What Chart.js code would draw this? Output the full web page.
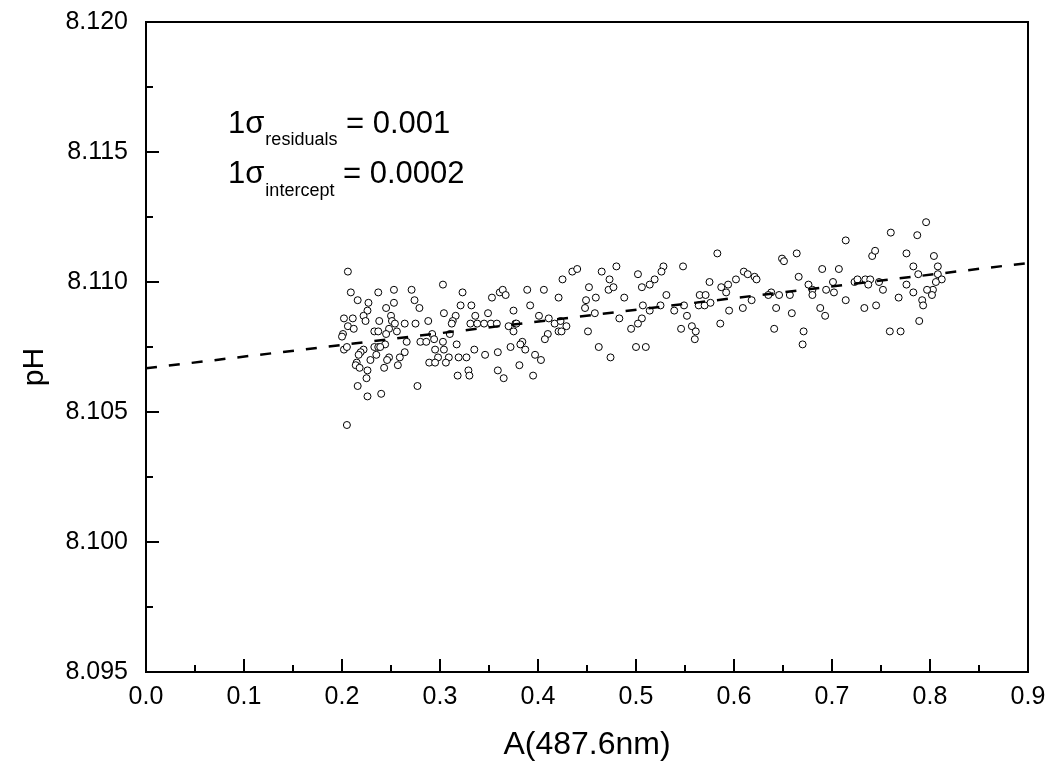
<!DOCTYPE html>
<html>
<head>
<meta charset="utf-8">
<script src="https://cdn.jsdelivr.net/npm/chart.js@4"></script>
<style>
  html, body { margin: 0; padding: 0; background: #fff; }
  #wrap { width: 1054px; height: 765px; position: relative; }
</style>
</head>
<body>
<div id="wrap"><canvas id="chart"></canvas></div>
<script>
// measured samples: [A(487.6nm), pH]
const samples = [
  [0.206,8.1104],[0.209,8.1096],[0.216,8.1093],[0.227,8.1092],[0.237,8.1096],[0.253,8.1097],[0.253,8.1092],[0.226,8.1089],[0.222,8.1087],[0.224,8.1085],
  [0.245,8.1090],[0.202,8.1086],[0.211,8.1086],[0.206,8.1083],[0.212,8.1082],[0.201,8.1080],[0.200,8.1079],[0.238,8.1085],[0.250,8.1087],[0.251,8.1085],
  [0.254,8.1084],[0.248,8.1082],[0.233,8.1081],[0.237,8.1081],[0.245,8.1080],[0.256,8.1081],[0.202,8.1074],[0.205,8.1075],[0.222,8.1074],[0.219,8.1073],
  [0.217,8.1072],[0.233,8.1075],[0.237,8.1075],[0.244,8.1076],[0.239,8.1075],[0.235,8.1072],[0.229,8.1070],[0.215,8.1069],[0.214,8.1068],[0.218,8.1067],
  [0.226,8.1066],[0.225,8.1063],[0.248,8.1071],[0.246,8.1070],[0.257,8.1068],[0.243,8.1067],[0.216,8.1060],[0.226,8.1056],[0.240,8.1057],[0.205,8.1045],
  [0.303,8.1099],[0.271,8.1097],[0.323,8.1096],[0.353,8.1094],[0.361,8.1096],[0.274,8.1093],[0.279,8.1090],[0.304,8.1088],[0.321,8.1091],[0.332,8.1091],
  [0.316,8.1087],[0.336,8.1087],[0.349,8.1088],[0.264,8.1084],[0.275,8.1084],[0.288,8.1085],[0.313,8.1085],[0.312,8.1084],[0.331,8.1084],[0.338,8.1084],
  [0.345,8.1084],[0.352,8.1084],[0.358,8.1084],[0.292,8.1080],[0.310,8.1080],[0.266,8.1077],[0.280,8.1077],[0.286,8.1077],[0.294,8.1078],[0.303,8.1077],
  [0.317,8.1076],[0.295,8.1074],[0.304,8.1074],[0.264,8.1073],[0.259,8.1071],[0.298,8.1071],[0.309,8.1071],[0.319,8.1071],[0.327,8.1071],[0.335,8.1074],
  [0.346,8.1072],[0.359,8.1073],[0.289,8.1069],[0.295,8.1069],[0.306,8.1069],[0.329,8.1066],[0.330,8.1064],[0.318,8.1064],[0.359,8.1066],[0.277,8.1060],
  [0.435,8.1104],[0.440,8.1105],[0.425,8.1101],[0.465,8.1104],[0.364,8.1097],[0.367,8.1095],[0.389,8.1097],[0.406,8.1097],[0.421,8.1094],[0.392,8.1091],
  [0.452,8.1098],[0.449,8.1093],[0.459,8.1094],[0.375,8.1089],[0.448,8.1090],[0.458,8.1088],[0.370,8.1083],[0.377,8.1084],[0.378,8.1084],[0.375,8.1081],
  [0.401,8.1087],[0.411,8.1086],[0.417,8.1084],[0.423,8.1085],[0.429,8.1083],[0.410,8.1080],[0.421,8.1081],[0.424,8.1081],[0.407,8.1078],[0.451,8.1081],
  [0.384,8.1077],[0.382,8.1076],[0.372,8.1075],[0.387,8.1074],[0.397,8.1072],[0.403,8.1070],[0.381,8.1068],[0.365,8.1063],[0.395,8.1064],[0.462,8.1075],
  [0.480,8.1106],[0.502,8.1103],[0.528,8.1106],[0.526,8.1104],[0.548,8.1106],[0.473,8.1101],[0.472,8.1097],[0.477,8.1098],[0.506,8.1098],[0.514,8.1099],
  [0.519,8.1101],[0.488,8.1094],[0.531,8.1095],[0.565,8.1095],[0.507,8.1091],[0.514,8.1089],[0.525,8.1091],[0.549,8.1091],[0.564,8.1091],[0.483,8.1086],
  [0.506,8.1086],[0.502,8.1084],[0.495,8.1082],[0.539,8.1089],[0.552,8.1087],[0.546,8.1082],[0.557,8.1083],[0.561,8.1081],[0.560,8.1078],[0.500,8.1075],
  [0.510,8.1075],[0.474,8.1071],
  [0.649,8.1109],[0.651,8.1108],[0.575,8.1100],[0.587,8.1098],[0.594,8.1099],[0.592,8.1096],[0.602,8.1101],[0.610,8.1104],[0.614,8.1103],[0.621,8.1102],
  [0.623,8.1101],[0.666,8.1102],[0.676,8.1099],[0.690,8.1105],[0.571,8.1095],[0.570,8.1091],[0.576,8.1092],[0.618,8.1093],[0.638,8.1096],[0.635,8.1095],
  [0.646,8.1095],[0.657,8.1095],[0.680,8.1097],[0.680,8.1095],[0.694,8.1097],[0.595,8.1089],[0.609,8.1090],[0.643,8.1090],[0.659,8.1088],[0.688,8.1090],
  [0.693,8.1087],[0.586,8.1084],[0.641,8.1082],[0.671,8.1081],[0.670,8.1076],
  [0.741,8.1110],[0.744,8.1112],[0.776,8.1111],[0.796,8.1123],[0.804,8.1110],[0.707,8.1105],[0.783,8.1106],[0.788,8.1103],[0.808,8.1106],[0.808,8.1103],
  [0.812,8.1101],[0.701,8.1100],[0.702,8.1096],[0.723,8.1100],[0.726,8.1101],[0.734,8.1101],[0.739,8.1101],[0.737,8.1099],[0.748,8.1100],[0.752,8.1097],
  [0.776,8.1099],[0.783,8.1096],[0.806,8.1100],[0.803,8.1097],[0.797,8.1097],[0.802,8.1095],[0.714,8.1093],[0.768,8.1094],[0.792,8.1093],[0.793,8.1091],
  [0.733,8.1090],[0.745,8.1091],[0.789,8.1085],[0.759,8.1081],[0.770,8.1081],
  [0.714,8.1116],[0.760,8.1119],[0.787,8.1118],[0.664,8.1111],[0.583,8.1111]
];

// linear fit drawn across the full x range
const fitX = [0.0, 0.9];
const fitPH = [8.10668, 8.11073];

const xMajor = [0.0, 0.1, 0.2, 0.3, 0.4, 0.5, 0.6, 0.7, 0.8, 0.9];
const xMinor = [0.05, 0.15, 0.25, 0.35, 0.45, 0.55, 0.65, 0.75, 0.85];
const yMajor = [8.095, 8.100, 8.105, 8.110, 8.115, 8.120];
const yMinor = [8.0975, 8.1025, 8.1075, 8.1125, 8.1175];

const FONT = '"Liberation Sans", Arial, sans-serif';

// inward ticks, closed frame, pH title and the sigma annotation
const framePlugin = {
    id: 'frame',
    afterDraw(chart) {
        const ctx = chart.ctx;
        const area = chart.chartArea;
        const xs = chart.scales.x;
        const ys = chart.scales.y;
        ctx.save();
        ctx.strokeStyle = '#000';
        ctx.lineWidth = 2;
        ctx.strokeRect(area.left, area.top, area.right - area.left, area.bottom - area.top);

        ctx.beginPath();
        xMajor.forEach(v => {
            const px = Math.round(xs.getPixelForValue(v));
            ctx.moveTo(px, area.bottom); ctx.lineTo(px, area.bottom - 13);
        });
        xMinor.forEach(v => {
            const px = Math.round(xs.getPixelForValue(v));
            ctx.moveTo(px, area.bottom); ctx.lineTo(px, area.bottom - 7);
        });
        yMajor.forEach(v => {
            const py = Math.round(ys.getPixelForValue(v));
            ctx.moveTo(area.left, py); ctx.lineTo(area.left + 13, py);
        });
        yMinor.forEach(v => {
            const py = Math.round(ys.getPixelForValue(v));
            ctx.moveTo(area.left, py); ctx.lineTo(area.left + 7, py);
        });
        ctx.stroke();

        // y axis title
        ctx.fillStyle = '#000';
        ctx.translate(35, 367);
        ctx.rotate(-Math.PI / 2);
        ctx.font = '30px ' + FONT;
        ctx.textAlign = 'center';
        ctx.textBaseline = 'middle';
        ctx.fillText('pH', 0, 0);
        ctx.restore();

        // annotation lines
        ctx.save();
        ctx.fillStyle = '#000';
        ctx.textBaseline = 'alphabetic';
        const lines = [
            { sub: 'residuals', val: ' = 0.001', base: 133, subBase: 145 },
            { sub: 'intercept', val: ' = 0.0002', base: 183, subBase: 196 }
        ];
        lines.forEach(l => {
            let x = 228;
            ctx.font = '31px ' + FONT;
            ctx.fillText('1\u03c3', x, l.base);
            x += ctx.measureText('1\u03c3').width + 1;
            ctx.font = '18px ' + FONT;
            ctx.fillText(l.sub, x, l.subBase);
            x += ctx.measureText(l.sub).width;
            ctx.font = '31px ' + FONT;
            ctx.fillText(l.val, x, l.base);
        });
        ctx.restore();
    }
};

const ctx = document.getElementById('chart').getContext('2d');
new Chart(ctx, {
    type: 'scatter',
    data: {
        datasets: [
            {
                type: 'line',
                data: fitX.map((x, i) => ({ x: x, y: fitPH[i] })),
                borderColor: '#000',
                borderWidth: 2.5,
                borderDash: [11, 12],
                pointRadius: 0,
                fill: false,
                order: 0
            },
            {
                data: samples.map(p => ({ x: p[0], y: p[1] })),
                pointRadius: 3.5,
                pointBorderWidth: 1,
                pointBackgroundColor: '#fff',
                pointBorderColor: '#000',
                order: 1
            }
        ]
    },
    options: {
        responsive: true,
        maintainAspectRatio: false,
        animation: false,
        layout: { padding: { top: 22, right: 26, left: 0, bottom: 0 } },
        plugins: { legend: { display: false }, tooltip: { enabled: false } },
        scales: {
            x: {
                type: 'linear',
                min: 0,
                max: 0.9,
                afterFit: s => { s.height = 93; s.paddingLeft = 0; s.paddingRight = 0; },
                ticks: {
                    stepSize: 0.1,
                    autoSkip: false,
                    maxRotation: 0,
                    padding: 10,
                    color: '#000',
                    font: { family: FONT, size: 25 },
                    callback: v => v.toFixed(1)
                },
                grid: { display: false, drawTicks: false },
                border: { display: false },
                title: {
                    display: true,
                    text: 'A(487.6nm)',
                    color: '#000',
                    font: { family: FONT, size: 32 },
                    padding: { top: 0, bottom: 1 }
                }
            },
            y: {
                type: 'linear',
                min: 8.095,
                max: 8.120,
                afterFit: s => { s.width = 146; s.paddingTop = 0; s.paddingBottom = 0; },
                ticks: {
                    stepSize: 0.005,
                    padding: 18,
                    color: '#000',
                    font: { family: FONT, size: 25 },
                    callback: v => v.toFixed(3)
                },
                grid: { display: false, drawTicks: false },
                border: { display: false }
            }
        }
    },
    plugins: [framePlugin]
});
</script>
</body>
</html>
